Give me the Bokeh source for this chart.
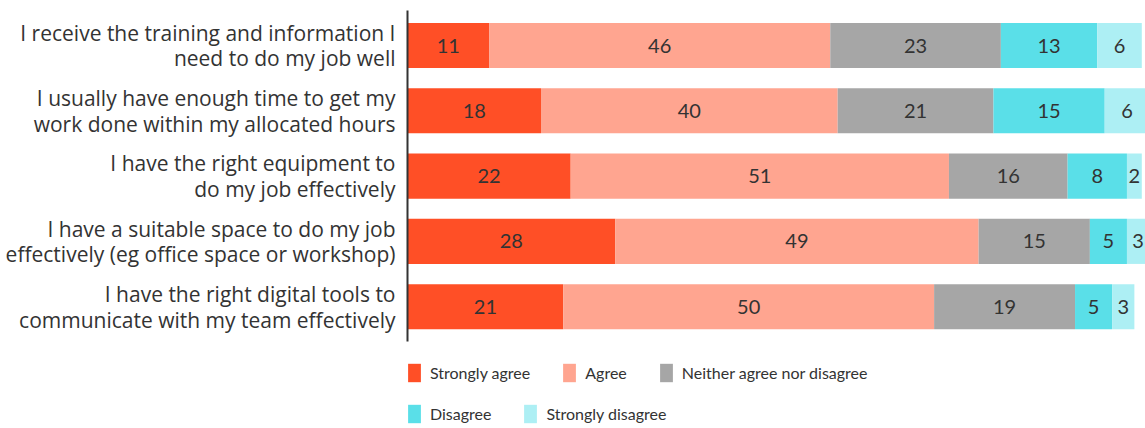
from bokeh.plotting import figure
from bokeh.models import Range1d, ColumnDataSource, Legend, LegendItem, FixedTicker
from bokeh.core.properties import value
from bokeh.embed import file_html
from bokeh.resources import INLINE

categories = [
    "I receive the training and information I\nneed to do my job well",
    "I usually have enough time to get my\nwork done within my allocated hours",
    "I have the right equipment to\ndo my job effectively",
    "I have a suitable space to do my job\neffectively (eg office space or workshop)",
    "I have the right digital tools to\ncommunicate with my team effectively",
]
series_names = ["Strongly agree", "Agree", "Neither agree nor disagree", "Disagree", "Strongly disagree"]
strongly_agree = [11, 18, 22, 28, 21]
agree = [46, 40, 51, 49, 50]
neither = [23, 21, 16, 15, 19]
disagree = [13, 15, 8, 5, 5]
strongly_disagree = [6, 6, 2, 3, 3]
colors = ["#FF4F26", "#FFA590", "#A6A6A6", "#5ADFE8", "#ADEFF4"]

FONT = "Lato"
TICK_FONT = "Open Sans"
TXT = "#333333"

n = len(categories)
ypos = [n - 1 - i for i in range(n)]   # first category at the top
series = [strongly_agree, agree, neither, disagree, strongly_disagree]
keys = ["s0", "s1", "s2", "s3", "s4"]
data = {"y": ypos}
for k, s in zip(keys, series):
    data[k] = s
src = ColumnDataSource(data)

# y range: band = 65.3 px, frame 10..428 px
y_top = (n - 1) + 0.536
y_bottom = y_top - 418 / 65.3
p = figure(width=1145, height=428, output_backend="svg", toolbar_location=None,
           y_range=Range1d(y_bottom, y_top), x_range=Range1d(0, 99.5),
           min_border_left=407, min_border_right=0, min_border_top=10, min_border_bottom=0)

renderers = p.hbar_stack(keys, y="y", height=0.69, color=colors, source=src, line_width=0)

# value labels
lx, ly, lt = [], [], []
for i in range(n):
    left = 0
    for s in series:
        v = s[i]
        lx.append(left + v / 2)
        ly.append(ypos[i])
        lt.append(str(v))
        left += v
p.text(x=lx, y=ly, text=lt, text_align="center", text_baseline="middle",
       text_font=value(FONT), text_font_size="20px", text_color=TXT)

p.xaxis.visible = False
p.xgrid.visible = False
p.ygrid.visible = False
p.outline_line_color = None
yax = p.yaxis[0]
yax.ticker = FixedTicker(ticks=ypos)
yax.major_label_overrides = {y: c for y, c in zip(ypos, categories)}
yax.bounds = (-0.535, y_top)
yax.axis_line_color = TXT
yax.axis_line_width = 2
yax.major_tick_line_color = None
yax.minor_tick_line_color = None
yax.major_label_standoff = 6
yax.major_label_text_font = TICK_FONT
yax.major_label_text_font_size = "21px"
yax.major_label_text_color = TXT
yax.major_label_text_line_height = 0.92

def make_legend(idx, loc):
    items = [LegendItem(label=series_names[i], renderers=[renderers[i]]) for i in idx]
    return Legend(items=items, orientation="horizontal", location=loc,
                  spacing=31, label_standoff=8, glyph_width=16, glyph_height=23,
                  padding=0, margin=0, border_line_color=None, background_fill_alpha=0,
                  label_text_font=FONT, label_text_font_size="16px", label_text_color=TXT,
                  label_height=23)

p.add_layout(make_legend([0, 1, 2], (-1, 44)), "center")
p.add_layout(make_legend([3, 4], (-1, 3)), "center")

open("out.html", "w").write(file_html(p, INLINE))
